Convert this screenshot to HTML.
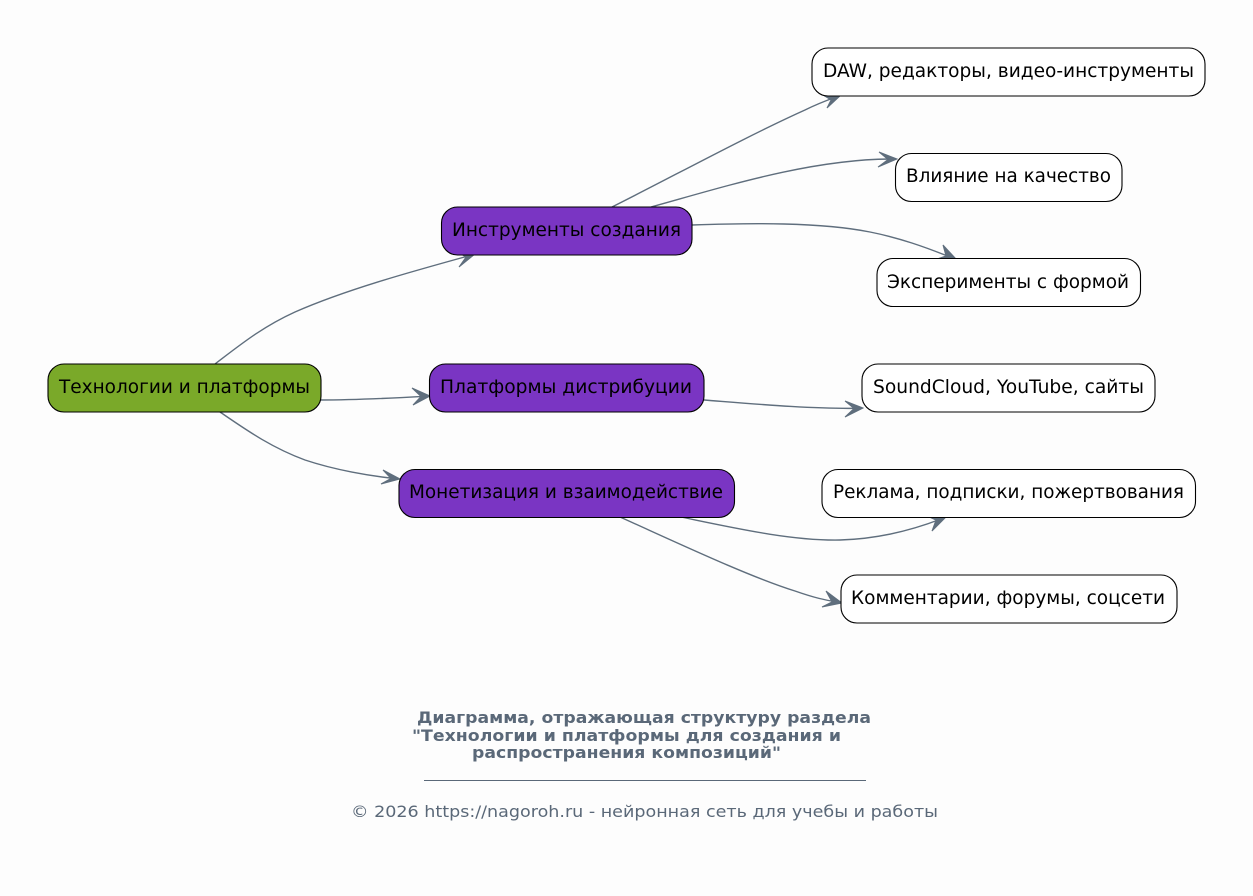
<!DOCTYPE html>
<html lang="ru"><head><meta charset="utf-8"><title>Диаграмма</title>
<style>
html,body{margin:0;padding:0;background:#fdfdfd}
svg{display:block}
text{font-family:"DejaVu Sans",sans-serif}
.n{font-size:18.67px;fill:#000}
.t{font-size:16px;font-weight:bold;fill:#5a6878}
.f{font-size:16px;fill:#5a6878}
.e{fill:none;stroke:#5f6e7d;stroke-width:1.4}
.a{fill:#5f6e7d;stroke:#5f6e7d;stroke-width:1;stroke-linejoin:miter}
rect{stroke:#000;stroke-width:1.1}
</style></head><body>
<svg width="1253" height="896" viewBox="0 0 1253 896" xmlns="http://www.w3.org/2000/svg">
<rect x="0" y="0" width="1253" height="896" style="fill:#fdfdfd;stroke:none"/>

<path class="e" d="M215 364 C240 345 262 327 295 312 C345 290 410 272 470 255.500"/>
<path class="a" d="M475 254 L457 252 L466 257 L459 267 Z"/>
<path class="e" d="M320 400 C355 400 395 398 425 396.300"/>
<path class="a" d="M430 396 L412 388 L421 396.500 L413 405 Z"/>
<path class="e" d="M220 412 C245 429 270 447 305 460 C335 470 370 476 395 478.500"/>
<path class="a" d="M400 479 L383 470 L391 478.500 L381 484 Z"/>
<path class="e" d="M612 207 C670 178 745 137 805 110 C815 105 825 101 836 97"/>
<path class="a" d="M841 95 L823 95 L831 100 L827 108 Z"/>
<path class="e" d="M651 207 C720 188 810 159 892 159"/>
<path class="a" d="M897 159 L879 152 L888 159.500 L878 167 Z"/>
<path class="e" d="M692 225 C750 223 820 222 870 232 C900 238 925 247 950 257"/>
<path class="a" d="M956 259 L943 245 L946 256 L937 259 Z"/>
<path class="e" d="M704 400 C755 404 810 409 858 408.300"/>
<path class="a" d="M863 408 L845 401 L854 408.500 L845 417 Z"/>
<path class="e" d="M676 516 C730 527 790 541 840 540 C880 539 915 529 941 519"/>
<path class="a" d="M946 517 L927 516 L936 520 L932 531 Z"/>
<path class="e" d="M620 517 C680 544 750 577 795 591 C815 598 825 600 837 602"/>
<path class="a" d="M842 603 L826 591 L832 602 L822 607 Z"/>

<rect x="48" y="364" width="273" height="48" rx="16" fill="#7aa929"/>
<rect x="441.500" y="207" width="250.500" height="48" rx="16" fill="#7a35c3"/>
<rect x="429.500" y="364" width="274.500" height="48" rx="16" fill="#7a35c3"/>
<rect x="399" y="469.500" width="335.500" height="48" rx="16" fill="#7a35c3"/>
<rect x="812" y="48" width="393" height="48" rx="16" fill="#fff"/>
<rect x="895.500" y="153.500" width="226.500" height="48" rx="16" fill="#fff"/>
<rect x="877" y="258.500" width="263.500" height="48" rx="16" fill="#fff"/>
<rect x="862" y="364" width="293" height="48" rx="16" fill="#fff"/>
<rect x="822" y="469.500" width="373.500" height="48" rx="16" fill="#fff"/>
<rect x="841" y="575" width="336" height="48" rx="16" fill="#fff"/>

<text class="n" x="59" y="393" textLength="251" lengthAdjust="spacingAndGlyphs">Технологии и платформы</text>
<text class="n" x="452" y="236" textLength="229" lengthAdjust="spacingAndGlyphs">Инструменты создания</text>
<text class="n" x="440" y="393" textLength="252" lengthAdjust="spacingAndGlyphs">Платформы дистрибуции</text>
<text class="n" x="409" y="498" textLength="314" lengthAdjust="spacingAndGlyphs">Монетизация и взаимодействие</text>
<text class="n" x="823" y="77" textLength="371" lengthAdjust="spacingAndGlyphs">DAW, редакторы, видео-инструменты</text>
<text class="n" x="906" y="182" textLength="205" lengthAdjust="spacingAndGlyphs">Влияние на качество</text>
<text class="n" x="887" y="288" textLength="242" lengthAdjust="spacingAndGlyphs">Эксперименты с формой</text>
<text class="n" x="873" y="393" textLength="271" lengthAdjust="spacingAndGlyphs">SoundCloud, YouTube, сайты</text>
<text class="n" x="833" y="498" textLength="351" lengthAdjust="spacingAndGlyphs">Реклама, подписки, пожертвования</text>
<text class="n" x="851" y="604" textLength="314" lengthAdjust="spacingAndGlyphs">Комментарии, форумы, соцсети</text>

<text class="t" x="417" y="723" textLength="454" lengthAdjust="spacingAndGlyphs">Диаграмма, отражающая структуру раздела</text>
<text class="t" x="412" y="741" textLength="429" lengthAdjust="spacingAndGlyphs">"Технологии и платформы для создания и</text>
<text class="t" x="472" y="758" textLength="309" lengthAdjust="spacingAndGlyphs">распространения композиций"</text>
<rect x="424" y="780" width="442" height="1" style="fill:#5a6878;stroke:none"/>
<text class="f" x="351" y="817" textLength="587" lengthAdjust="spacingAndGlyphs">© 2026 https://nagoroh.ru - нейронная сеть для учебы и работы</text>
</svg>
</body></html>
